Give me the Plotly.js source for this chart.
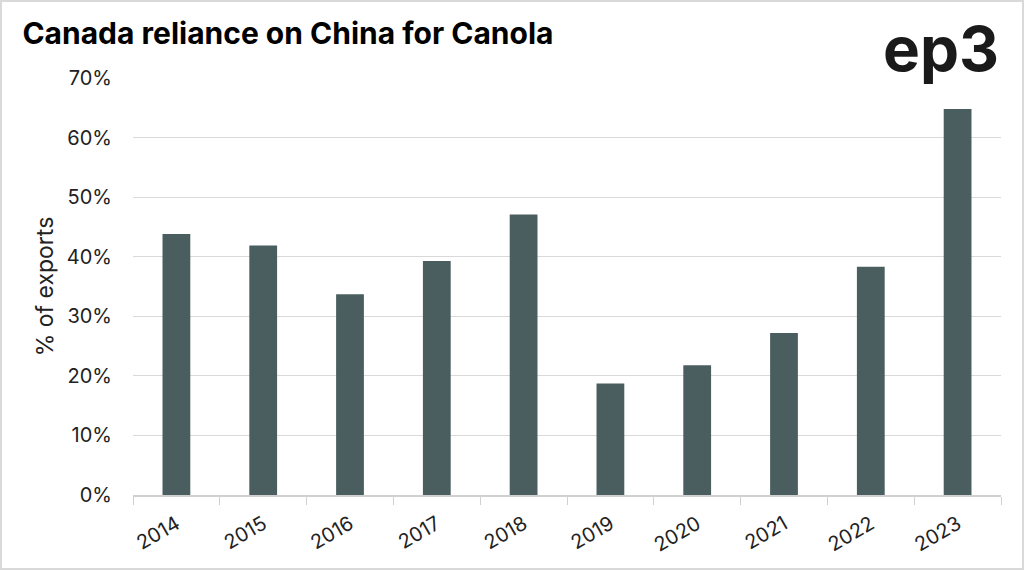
<!DOCTYPE html>
<html><head><meta charset="utf-8">
<script src="https://cdn.plot.ly/plotly-3.0.1.min.js"></script>
<style>html,body{margin:0;padding:0;background:#fff}#c{width:1024px;height:570px;box-sizing:border-box;border:2px solid #d9d9d9}</style>
</head><body><div id="c"></div>
<script>
const years = ['2014','2015','2016','2017','2018','2019','2020','2021','2022','2023'];
const shareOfExports = [0.438, 0.419, 0.337, 0.393, 0.471, 0.187, 0.218, 0.272, 0.383, 0.648];
const yTicks = [0,0.1,0.2,0.3,0.4,0.5,0.6,0.7];

Plotly.newPlot('c', [{
  type:'bar', x: years, y: shareOfExports,
  marker:{color:'#4b5e5f'}, hoverinfo:'x+y'
}], {
  width:1020, height:566,
  margin:{l:131, r:21, t:76, b:73},
  paper_bgcolor:'#fff', plot_bgcolor:'#fff',
  font:{family:'Inter, sans-serif', color:'#222'},
  bargap:0.68,
  title:{text:'<b>Canada reliance on China for Canola</b>', x:0.02, xanchor:'left', y:0.945, yanchor:'middle', font:{size:30, family:'Inter, sans-serif', color:'#000'}},
  xaxis:{type:'category', tickangle:-30, tickfont:{size:20}, ticklabelstandoff:8, showline:true, linecolor:'#d0d0d0', linewidth:1.5, ticks:'outside', tickson:'boundaries', ticklen:8, tickcolor:'#d0d0d0', showgrid:false},
  yaxis:{range:[0,0.7], tickvals:yTicks, tickformat:'.0%', tickfont:{size:20}, ticklabelstandoff:20, gridcolor:'#d9d9d9', gridwidth:1, zeroline:false, ticks:'', ticklen:0,
    title:{text:'% of exports', font:{size:23}, standoff:6}},
  annotations:[{text:'<b>ep3</b>', xref:'paper', yref:'paper', x:1.0, y:1.07, xanchor:'right', yanchor:'middle', showarrow:false, font:{size:62, family:'Inter, sans-serif', color:'#1a1a1a'}}],
  showlegend:false
}, {displayModeBar:false});
</script></body></html>
